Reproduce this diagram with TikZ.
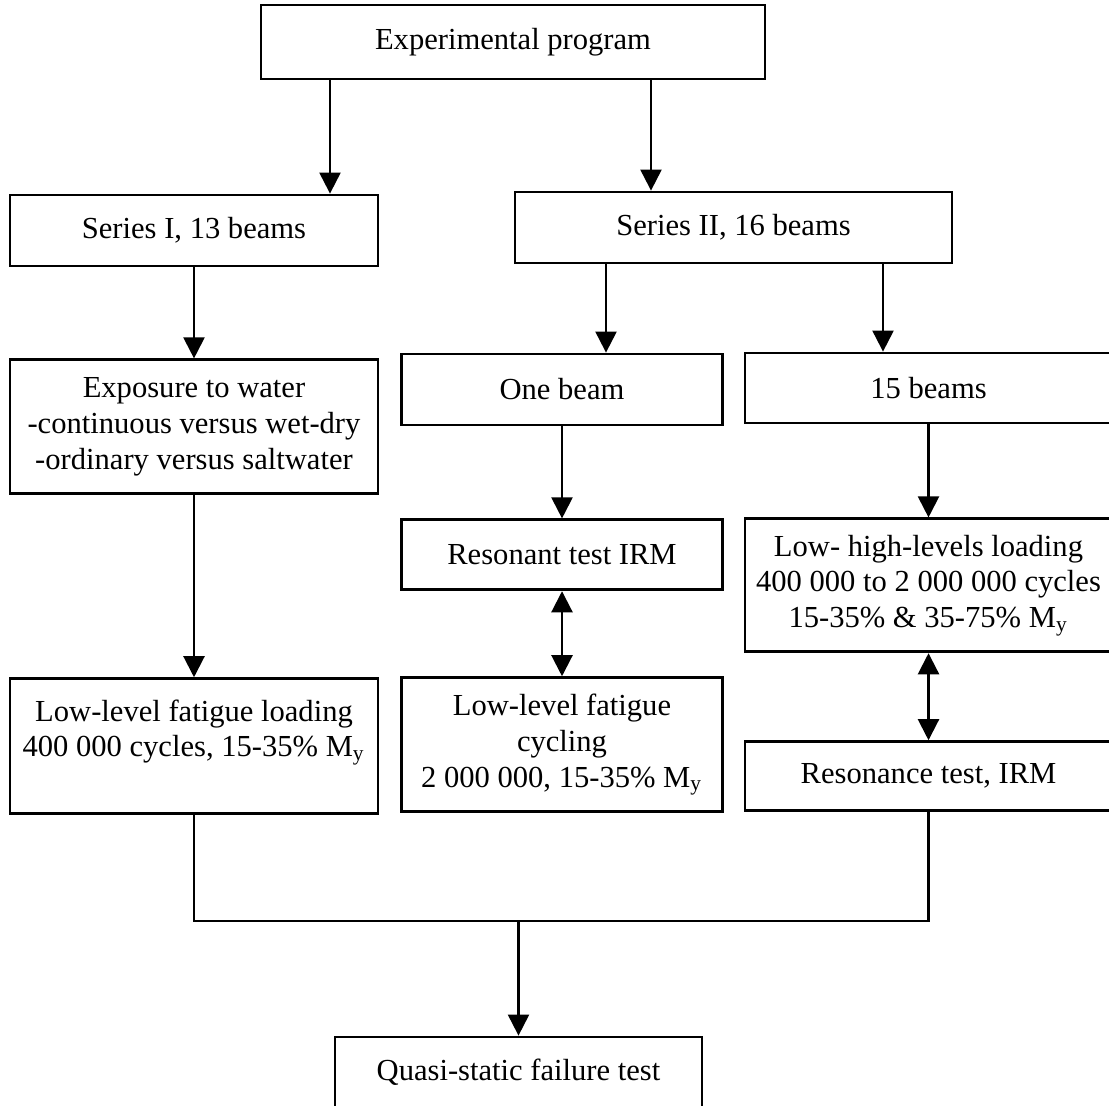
\documentclass[tikz,border=0pt]{standalone}
\usepackage{fontspec}
\setmainfont{Liberation Serif}
\usetikzlibrary{arrows.meta,positioning}

\begin{document}
\begin{tikzpicture}[box/.style={draw, line width=0.8pt, align=center, inner sep=0pt, font=\fontsize{8.7}{10.2}\selectfont},
lbox/.style={box, minimum width=3.68cm},
mbox/.style={box, minimum width=3.21cm},
rbox/.style={box, minimum width=3.67cm},
arr/.style={-{Triangle[length=6pt,width=6pt]}, line width=0.6pt},
dbl/.style={{Triangle[length=6pt,width=6pt]}-{Triangle[length=6pt,width=6pt]}, line width=0.6pt}]

\useasboundingbox (0,0) rectangle (11.09,-11.05);

\node[box, minimum width=5.04cm, minimum height=0.74cm] (prog) at (5.13,-0.42) {Experimental program};

\node[lbox, minimum height=0.71cm] (s1) at (1.94,-2.305) {Series I, 13 beams};

\draw[arr] ([xshift=-1.83cm]prog.south) to ([xshift=-1.83cm]prog.south |- s1.north);

\node[box, minimum width=4.37cm, minimum height=0.71cm] (s2) at (7.335,-2.275) {Series II, 16 beams};

\draw[arr] ([xshift=1.38cm]prog.south) to ([xshift=1.38cm]prog.south |- s2.north);

\node[lbox, minimum height=1.34cm, below=0.91cm of s1] (water) {Exposure to water\\-continuous versus wet-dry\\-ordinary versus saltwater};

\draw[arr] (s1) to (water);

\node[lbox, minimum height=1.35cm, below=1.82cm of water] (lowfat) {Low-level fatigue loading\\400 000 cycles, 15-35\% M\textsubscript{y}\\\mbox{}};

\draw[arr] (water) to (lowfat);

\node[mbox, minimum height=0.71cm] (one) at (5.62,-3.895) {One beam};

\draw[arr] ([xshift=-1.275cm]s2.south) to ([xshift=-1.275cm]s2.south |- one.north);

\node[mbox, minimum height=0.70cm, below=0.92cm of one] (res) {Resonant test IRM};

\draw[arr] (one) to (res);

\node[mbox, minimum height=1.34cm, below=0.85cm of res] (cyc) {Low-level fatigue\\cycling\\2 000 000, 15-35\% M\textsubscript{y}};

\draw[dbl] (res) to (cyc);

\node[rbox, minimum height=0.70cm] (b15) at (9.285,-3.88) {15 beams};

\draw[arr] ([xshift=1.495cm]s2.south) to ([xshift=1.495cm]s2.south |- b15.north);

\node[rbox, minimum height=1.33cm, below=0.93cm of b15] (lowhigh) {Low- high-levels loading\\400 000 to 2 000 000 cycles\\15-35\% \& 35-75\% M\textsubscript{y}};

\draw[arr] (b15) to (lowhigh);

\node[rbox, minimum height=0.69cm, below=0.87cm of lowhigh] (reson) {Resonance test, IRM};

\draw[dbl] (lowhigh) to (reson);

\node[box, minimum width=3.67cm, minimum height=0.70cm] (quasi) at (5.185,-10.72) {Quasi-static failure test};

\coordinate (m) at (5.185,-9.21);

\draw[line width=0.6pt] (lowfat.south) -- (lowfat.south |- m) -- (reson.south |- m) -- (reson.south);

\draw[arr] (m) to (quasi);

\end{tikzpicture}
\end{document}
